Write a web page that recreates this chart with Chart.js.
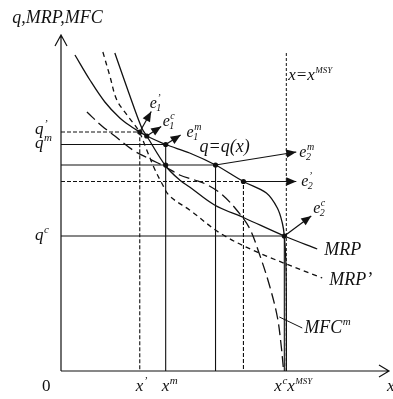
<!DOCTYPE html>
<html><head><meta charset="utf-8">
<script src="https://cdn.jsdelivr.net/npm/chart.js@4.4.1/dist/chart.umd.min.js"></script>
<style>html,body{margin:0;padding:0;background:#fff}#wrap{width:393px;height:399px;position:relative}</style>
</head><body><div id="wrap"><canvas id="c"></canvas></div>
<script>
// ---- data (x: stock, y: q / MRP / MFC) ----
const qCurveX = [14,29,44,59,71,79,86,105,129,155,183,206,217,222,224,225.5,226,226];
const qCurveY = [316,291,269,253,244,239,235,226.5,218,206,189.5,178,163,148,135,111,71,0];
const mrpX = [54,67,81,86,105,119,129,154,184,224,257];
const mrpY = [318,281,243,235,205,191,184,166,153,135,122];
const mrpPrimeX = [42,49,56,67,78,86,93,101,109,129,161,199,262];
const mrpPrimeY = [319,295,271,255,240,221,204,188,175,161,137,118,93];
const mfcX = [26,41,54,72,89,105,119,134,147,162,177,189,199,209,217,221,223];
const mfcY = [259,245,235,221,212,204,196,191,186,176,160,143,117,86,54,24,3];
// equilibrium corners (x level, q level) and whether guides are dashed
const cornerX = [79,105,155,183,224];
const cornerY = [239,226.5,206,189.5,135];
const cornerDashed = [true,false,false,true,false];
// marked points
const dotX = [79,86,105,105,155,183,224];
const dotY = [239,235,226.5,206,206,189.5,135];
// arrows: start -> tip
const arrowFromX = [79,86,105,155,183,224];
const arrowFromY = [239,235,226.5,206,189.5,135];
const arrowToX = [90.5,100.5,120,236,236,251];
const arrowToY = [259.5,244.5,236,219,189.5,155];
const xMSY = 226, xMSYTop = 319;
const X_MAX = 329, Y_MAX = 336;

const zip = (xs, ys) => xs.map((x, i) => ({x, y: ys[i]}));
const INK = '#111';
const datasets = [];
const curve = (xs, ys, dash, w) => datasets.push({data: zip(xs, ys), showLine: true, borderColor: INK, borderWidth: w || 1.3, borderDash: dash || [], pointRadius: 0, tension: 0.35, fill: false, clip: false});
curve(qCurveX, qCurveY);
curve(mrpX, mrpY);
curve(mrpPrimeX, mrpPrimeY, [5,4]);
curve(mfcX, mfcY, [11,5]);
cornerX.forEach((cx, i) => {
  datasets.push({data: [{x: 0, y: cornerY[i]}, {x: cx, y: cornerY[i]}, {x: cx, y: 0}], showLine: true, borderColor: INK, borderWidth: 1.1, borderDash: cornerDashed[i] ? [4,2] : [], pointRadius: 0, tension: 0});
});
datasets.push({data: [{x: xMSY, y: 0}, {x: xMSY, y: xMSYTop}], showLine: true, borderColor: INK, borderWidth: 1, borderDash: [3,2], pointRadius: 0, tension: 0});
arrowFromX.forEach((fx, i) => {
  datasets.push({data: [{x: fx, y: arrowFromY[i]}, {x: arrowToX[i], y: arrowToY[i]}], showLine: true, borderColor: INK, borderWidth: 1.2, pointRadius: 0, tension: 0});
});
// leader line for MFC^m label
datasets.push({data: [{x: 219, y: 54}, {x: 242, y: 43}], showLine: true, borderColor: INK, borderWidth: 1, pointRadius: 0, tension: 0});
datasets.push({data: zip(dotX, dotY), showLine: false, pointRadius: 2.6, pointBackgroundColor: INK, pointBorderColor: INK, pointBorderWidth: 0});

const FAM = '"Liberation Serif", "DejaVu Serif", serif';
// text annotations, anchored in data units
const labels = [
  {x: -49, y: 348, size: 18, parts: [{t: 'q,MRP,MFC'}]},
  {x: -26, y: 237, size: 17, parts: [{t: 'q'}, {sup: '\u2019'}]},
  {x: -26, y: 223, size: 17, parts: [{t: 'q'}, {sup: 'm'}]},
  {x: -26, y: 131, size: 17, parts: [{t: 'q'}, {sup: 'c'}]},
  {x: -19, y: -20, size: 17, italic: false, parts: [{t: '0'}]},
  {x: 75, y: -20, size: 17, parts: [{t: 'x'}, {sup: '\u2019'}]},
  {x: 101, y: -20, size: 17, parts: [{t: 'x'}, {sup: 'm'}]},
  {x: 214, y: -20, size: 17, parts: [{t: 'x'}, {sup: 'c'}]},
  {x: 227, y: -20, size: 17, parts: [{t: 'x'}, {sup: 'MSY', small: 0.5}]},
  {x: 327, y: -20, size: 17, parts: [{t: 'x'}]},
  {x: 228, y: 291, size: 17, parts: [{t: 'x=x'}, {sup: 'MSY', small: 0.5}]},
  {x: 139, y: 219, size: 18, parts: [{t: 'q=q(x)'}]},
  {x: 89, y: 263, size: 16, parts: [{t: 'e'}, {sub: '1', sup: '\u2019'}]},
  {x: 102, y: 245, size: 16, parts: [{t: 'e'}, {sub: '1', sup: 'c'}]},
  {x: 126, y: 234, size: 16, parts: [{t: 'e'}, {sub: '1', sup: 'm'}]},
  {x: 239, y: 214, size: 16, parts: [{t: 'e'}, {sub: '2', sup: 'm'}]},
  {x: 241, y: 185, size: 16, parts: [{t: 'e'}, {sub: '2', sup: '\u2019'}]},
  {x: 253, y: 158, size: 16, parts: [{t: 'e'}, {sub: '2', sup: 'c'}]},
  {x: 264, y: 116, size: 18, parts: [{t: 'MRP'}]},
  {x: 269, y: 86, size: 18, parts: [{t: 'MRP\u2019'}]},
  {x: 244, y: 38, size: 18, parts: [{t: 'MFC'}, {sup: 'm'}]}
];

function drawRich(ctx, x, y, lab) {
  const size = lab.size, it = lab.italic === false ? '' : 'italic ';
  let cx = x;
  for (const p of lab.parts) {
    if (p.t !== undefined) {
      ctx.font = it + size + 'px ' + FAM;
      ctx.fillText(p.t, cx, y);
      cx += ctx.measureText(p.t).width;
    } else {
      const ss = Math.round(size * (p.small || 0.62));
      ctx.font = 'italic ' + ss + 'px ' + FAM;
      let w = 0;
      if (p.sup) { ctx.fillText(p.sup, cx + 0.5, y - size * 0.42); w = Math.max(w, ctx.measureText(p.sup).width); }
      if (p.sub) { ctx.fillText(p.sub, cx - 0.5, y + size * 0.2); w = Math.max(w, ctx.measureText(p.sub).width); }
      cx += w + 1;
    }
  }
}

const decor = {
  id: 'decor',
  afterDatasetsDraw(chart) {
    const {ctx, scales: {x: xs, y: ys}} = chart;
    const px = v => xs.getPixelForValue(v), py = v => ys.getPixelForValue(v);
    ctx.save();
    ctx.strokeStyle = INK; ctx.fillStyle = INK; ctx.lineWidth = 1.2; ctx.setLineDash([]);
    // axes
    const x0 = px(0), y0 = py(0), xr = px(X_MAX), yt = py(Y_MAX);
    ctx.beginPath();
    ctx.moveTo(x0, y0); ctx.lineTo(x0, yt);
    ctx.moveTo(x0 - 6, yt + 11); ctx.lineTo(x0, yt); ctx.lineTo(x0 + 6, yt + 11);
    ctx.moveTo(x0, y0); ctx.lineTo(xr, y0);
    ctx.moveTo(xr - 10, y0 - 6); ctx.lineTo(xr, y0); ctx.lineTo(xr - 10, y0 + 6);
    ctx.stroke();
    // arrowheads
    arrowFromX.forEach((fx, i) => {
      const ax = px(fx), ay = py(arrowFromY[i]), tx = px(arrowToX[i]), ty = py(arrowToY[i]);
      const a = Math.atan2(ty - ay, tx - ax), L = 10, W = 4.2;
      const bx = tx - L * Math.cos(a), by = ty - L * Math.sin(a);
      ctx.beginPath();
      ctx.moveTo(tx, ty);
      ctx.lineTo(bx - W * Math.sin(a), by + W * Math.cos(a));
      ctx.lineTo(bx + W * Math.sin(a), by - W * Math.cos(a));
      ctx.closePath(); ctx.fill();
    });
    // text
    ctx.textBaseline = 'alphabetic'; ctx.textAlign = 'left';
    labels.forEach(l => drawRich(ctx, px(l.x), py(l.y), l));
    ctx.restore();
  }
};

new Chart(document.getElementById('c'), {
  type: 'scatter',
  data: {datasets},
  options: {
    responsive: true, maintainAspectRatio: false, animation: false, events: [],
    layout: {padding: {left: 61, right: 3, top: 35, bottom: 28}},
    plugins: {legend: {display: false}, tooltip: {enabled: false}},
    scales: {
      x: {type: 'linear', display: false, min: 0, max: X_MAX},
      y: {type: 'linear', display: false, min: 0, max: Y_MAX}
    }
  },
  plugins: [decor]
});
</script></body></html>
